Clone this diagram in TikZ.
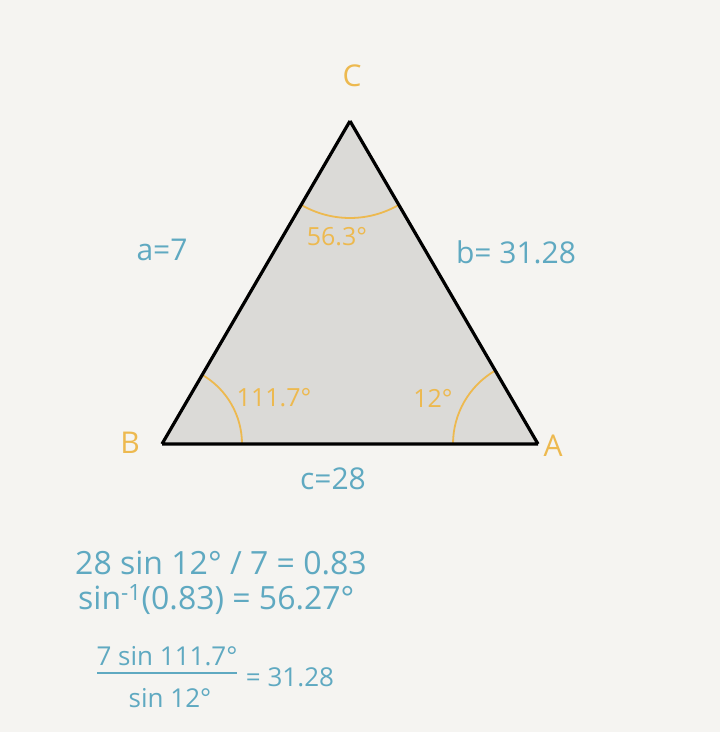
\documentclass[tikz,border=0pt]{standalone}
\usepackage{fontspec}
\setmainfont{Open Sans}
\definecolor{paper}{HTML}{F5F4F1}
\definecolor{trigrey}{HTML}{DBDAD7}
\definecolor{gold}{HTML}{EDB94F}
\definecolor{skyblue}{HTML}{5FA9C1}

\begin{document}
\begin{tikzpicture}[x=1pt,y=1pt,
    every node/.style={inner sep=0pt},
    vertexlbl/.style={text=gold,font=\fontsize{30}{34}\selectfont},
    anglelbl/.style={text=gold,font=\fontsize{25}{30}\selectfont},
    sidelbl/.style={text=skyblue,font=\fontsize{30}{34}\selectfont},
    eqlbl/.style={text=skyblue,font=\fontsize{32}{36}\selectfont},
    fraclbl/.style={text=skyblue,font=\fontsize{26}{30}\selectfont},
    anglearc/.style={gold,line width=1.8pt}]
    \fill[paper] (0,0) rectangle (720,732);

    \coordinate (A) at (538,288);
    \coordinate (B) at (162,288);
    \coordinate (C) at (350,611);

    \fill[trigrey] (B) -- (A) -- (C) -- cycle;
    \draw[anglearc] (C) ++(240:97) arc[start angle=240,end angle=300,radius=97];
    \draw[anglearc] (B) ++(0:80) arc[start angle=0,end angle=59.8,radius=80];
    \draw[anglearc] (A) ++(180:85) arc[start angle=180,end angle=120.2,radius=85];
    \draw[line width=3.2pt,line join=round]
        (B) -- (A)
        (A) -- (C)
        (C) -- (B);

    \node[vertexlbl] (labC) at (352,656) {C};
    \node[vertexlbl] (labB) at (130,289) {B};
    \node[vertexlbl] (labA) at (553,286) {A};
    \node[anglelbl] (angC) at (337,495) {56.3°};
    \node[anglelbl] (angB) at (274,334) {111.7°};
    \node[anglelbl] (angA) at (433,334) {12°};
    \node[sidelbl] (sideA) at (162,482) {a=7};
    \node[sidelbl] (sideB) at (516,480) {b= 31.28};
    \node[sidelbl] (sideC) at (333,253) {c=28};

    \node[eqlbl,anchor=west] (eq1) at (75,169) {28 sin 12° / 7 = 0.83};
    \node[eqlbl,anchor=west] (eq2) at (78,132) {sin\textsuperscript{-1}(0.83) = 56.27°};
    \node[fraclbl] (num) at (167,76) {7 sin 111.7°};
    \node[fraclbl] (den) at (170,34) {sin 12°};
    \node[fraclbl] (res) at (290,55) {= 31.28};
    \coordinate (barL) at (97,59);
    \coordinate (barR) at (237,59);
    \draw[skyblue,line width=1.8pt] (barL) -- (barR);
\end{tikzpicture}
\end{document}
